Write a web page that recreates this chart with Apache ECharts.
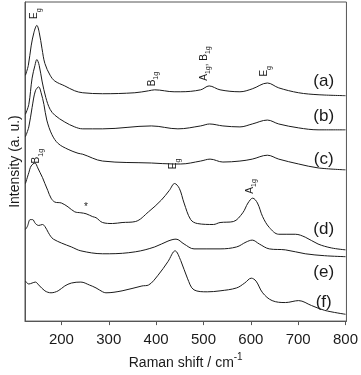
<!DOCTYPE html>
<html lang="en">
<head>
<meta charset="UTF-8">
<title>Raman spectra</title>
<style>
  html, body { margin: 0; padding: 0; background: #fff; }
  #main { width: 361px; height: 375px; }
</style>
</head>
<body>
<div id="main"></div>
<script src="https://cdn.jsdelivr.net/npm/echarts@6/dist/echarts.min.js"></script>
<script>
// spectra: [Raman shift (cm-1), intensity incl. stacking offset (a.u.)]
var traceA = [[124,252],[130,262],[136,282],[142,296],[148,303],[153,296],[159,279],[165,264],[176,252],[186,246],[207,241],[228,236],[245,234],[287,233],[355,234],[384,236],[397,237],[438,235],[452,235],[494,237],[512,241],[535,237],[577,235],[603,238],[635,244],[659,239],[701,234],[742,232],[800,231]];
var traceB = [[124,212],[131,222],[138,249],[144,262],[148,268],[153,262],[159,246],[167,229],[176,217],[186,211],[207,204],[228,199],[245,197],[287,197],[390,200],[446,197],[494,200],[513,202],[541,200],[577,199],[603,202],[635,206],[659,202],[701,198],[742,196],[800,196]];
var traceC = [[124,189],[131,199],[138,219],[145,236],[152,240],[157,234],[163,222],[169,206],[180,191],[193,182],[214,176],[235,172],[245,171],[287,164],[390,162],[438,161],[452,161],[494,164],[514,166],[541,163],[577,164],[603,166],[635,170],[659,166],[701,161],[742,157],[800,155]];
var traceD = [[124,141],[131,152],[136,159],[144,162],[150,157],[155,152],[160,147],[165,141],[171,134],[178,126],[186,122],[200,121],[214,117],[228,112],[241,111],[252,110],[266,107],[273,106],[287,101],[308,100],[328,101],[356,102],[384,112],[411,124],[428,134],[439,141],[449,136],[459,121],[473,104],[487,100],[521,99],[535,101],[563,102],[583,111],[594,121],[604,126],[614,121],[625,107],[639,96],[659,89],[694,89],[715,86],[742,79],[770,75],[800,73]];
var traceE = [[124,94],[128,97],[134,104],[139,104],[145,100],[152,98],[160,99],[165,97],[172,91],[177,87],[183,84],[200,80],[221,76],[241,72],[287,69],[301,69],[356,71],[397,76],[425,82],[442,84],[459,79],[480,74],[535,74],[570,76],[590,81],[603,83],[618,79],[639,74],[673,73],[715,69],[756,67],[800,66]];
var traceF = [[124,41],[131,38],[138,39],[145,40],[152,37],[165,31],[178,29],[193,31],[207,36],[221,39],[241,40],[259,37],[273,34],[287,30],[294,29],[328,31],[370,36],[384,37],[404,47],[425,61],[440,72],[452,62],[466,44],[480,32],[508,30],[535,31],[570,34],[587,39],[601,44],[611,41],[625,29],[645,21],[673,19],[701,21],[728,16],[756,11],[800,7]];

var traces = [traceA, traceB, traceC, traceD, traceE, traceF];
var sampleNames = ['(a)', '(b)', '(c)', '(d)', '(e)', '(f)'];
var sampleLabelY = [246, 210, 166, 94, 50, 19];
var tickValues = [200, 300, 400, 500, 600, 700, 800];

// band assignments: [shift, intensity, rich text]
var bandLabels = [
    [146, 315, '{m|E}{s|g}'],
    [394, 248, '{m|B}{s|1g}'],
    [504, 264, '{m|A}{s|1g}{m|, B}{s|1g}'],
    [632, 256, '{m|E}{s|g}'],
    [150, 169, '{m|B}{s|1g}'],
    [440, 161, '{m|E}{s|g}'],
    [601, 138, '{m|A}{s|1g}']
];
var starMark = [252, 117];

var FONT = 'Liberation Sans, Arial, sans-serif';
var INK = '#1a1a1a';

var myChart = echarts.init(document.getElementById('main'));

var series = traces.map(function (t, i) {
    return {
        name: sampleNames[i],
        type: 'line',
        data: t,
        smooth: 0.35,
        showSymbol: false,
        symbol: 'none',
        lineStyle: { color: INK, width: 1 },
        emphasis: { disabled: true }
    };
});

option = {
    animation: false,
    grid: {
        left: 21, right: 12, top: 2, bottom: 46,
        show: true,
        borderColor: '#555',
        borderWidth: 1
    },
    xAxis: {
        type: 'value',
        min: 123,
        max: 802,
        name: '{n|Raman shift / cm}{s|-1}',
        nameLocation: 'middle',
        nameGap: 27,
        nameTextStyle: {
            color: INK,
            fontFamily: FONT,
            rich: {
                n: { fontSize: 14, fontFamily: FONT, color: INK, verticalAlign: 'bottom' },
                s: { fontSize: 10, fontFamily: FONT, color: INK, verticalAlign: 'bottom', padding: [0, 0, 8, 0] }
            }
        },
        axisLine: { lineStyle: { color: '#555', width: 1 } },
        axisTick: { show: true, length: 4, inside: false, customValues: tickValues, lineStyle: { color: '#555' } },
        axisLabel: { customValues: tickValues, fontSize: 15, fontFamily: FONT, color: INK, margin: 11 },
        splitLine: { show: false }
    },
    yAxis: {
        type: 'value',
        min: 0,
        max: 327,
        name: 'Intensity (a. u.)',
        nameLocation: 'middle',
        nameGap: 3,
        nameTextStyle: { fontSize: 14, fontFamily: FONT, color: INK },
        axisLine: { show: true, lineStyle: { color: '#555', width: 1 } },
        axisTick: { show: false },
        axisLabel: { show: false },
        splitLine: { show: false }
    },
    series: series
};

myChart.setOption(option);

// annotations, placed with the chart's own coordinate conversion
var graphics = [];
var labelRich = {
    m: { fontSize: 10, fontFamily: FONT, fill: INK, verticalAlign: 'bottom', padding: [0, 0, 3, 0] },
    s: { fontSize: 7, fontFamily: FONT, fill: INK, verticalAlign: 'bottom' }
};
bandLabels.forEach(function (b) {
    var p = myChart.convertToPixel({ gridIndex: 0 }, [b[0], b[1]]);
    graphics.push({
        type: 'text',
        x: p[0], y: p[1],
        rotation: Math.PI / 2,
        silent: true,
        style: { text: b[2], rich: labelRich, fill: INK, align: 'center', verticalAlign: 'middle' }
    });
});
sampleNames.forEach(function (n, i) {
    var p = myChart.convertToPixel({ gridIndex: 0 }, [754, sampleLabelY[i]]);
    graphics.push({
        type: 'text',
        x: p[0], y: p[1],
        silent: true,
        style: { text: n, fontSize: 17, fontFamily: FONT, fill: INK, align: 'center', verticalAlign: 'middle' }
    });
});
var sp = myChart.convertToPixel({ gridIndex: 0 }, starMark);
graphics.push({
    type: 'text', x: sp[0], y: sp[1], silent: true,
    style: { text: '*', fontSize: 10, fontFamily: FONT, fill: INK, align: 'center', verticalAlign: 'middle' }
});

myChart.setOption({ graphic: graphics });
</script>
</body>
</html>
